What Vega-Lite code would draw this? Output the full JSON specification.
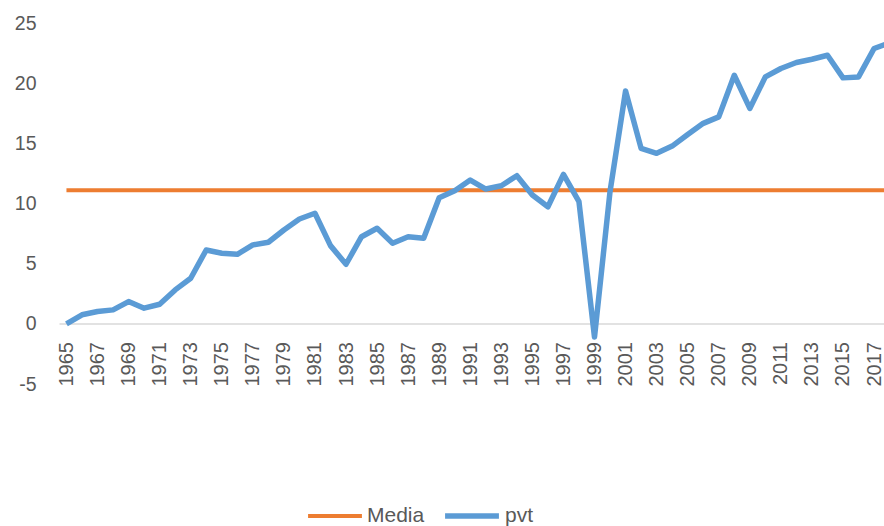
{
  "$schema": "https://vega.github.io/schema/vega-lite/v6.json",
  "autosize": {"type": "none"},
  "padding": {"left": 59, "top": 23, "right": 0, "bottom": 142},
  "width": 825,
  "height": 361,
  "background": "white",
  "config": {
    "view": {"stroke": null},
    "font": "Liberation Sans",
    "axis": {"labelFont": "Liberation Sans", "labelColor": "#595959", "labelFontSize": 19.5, "grid": false, "ticks": false, "title": null},
    "legend": {"labelFont": "Liberation Sans", "labelColor": "#595959", "labelFontSize": 21}
  },
  "data": {
    "values": [
      {"year": 1965, "pvt": 0.0, "Media": 11.1},
      {"year": 1966, "pvt": 0.75, "Media": 11.1},
      {"year": 1967, "pvt": 1.02, "Media": 11.1},
      {"year": 1968, "pvt": 1.16, "Media": 11.1},
      {"year": 1969, "pvt": 1.85, "Media": 11.1},
      {"year": 1970, "pvt": 1.3, "Media": 11.1},
      {"year": 1971, "pvt": 1.63, "Media": 11.1},
      {"year": 1972, "pvt": 2.82, "Media": 11.1},
      {"year": 1973, "pvt": 3.79, "Media": 11.1},
      {"year": 1974, "pvt": 6.14, "Media": 11.1},
      {"year": 1975, "pvt": 5.87, "Media": 11.1},
      {"year": 1976, "pvt": 5.78, "Media": 11.1},
      {"year": 1977, "pvt": 6.56, "Media": 11.1},
      {"year": 1978, "pvt": 6.78, "Media": 11.1},
      {"year": 1979, "pvt": 7.8, "Media": 11.1},
      {"year": 1980, "pvt": 8.71, "Media": 11.1},
      {"year": 1981, "pvt": 9.19, "Media": 11.1},
      {"year": 1982, "pvt": 6.5, "Media": 11.1},
      {"year": 1983, "pvt": 4.95, "Media": 11.1},
      {"year": 1984, "pvt": 7.24, "Media": 11.1},
      {"year": 1985, "pvt": 7.94, "Media": 11.1},
      {"year": 1986, "pvt": 6.7, "Media": 11.1},
      {"year": 1987, "pvt": 7.24, "Media": 11.1},
      {"year": 1988, "pvt": 7.11, "Media": 11.1},
      {"year": 1989, "pvt": 10.48, "Media": 11.1},
      {"year": 1990, "pvt": 11.06, "Media": 11.1},
      {"year": 1991, "pvt": 11.95, "Media": 11.1},
      {"year": 1992, "pvt": 11.2, "Media": 11.1},
      {"year": 1993, "pvt": 11.48, "Media": 11.1},
      {"year": 1994, "pvt": 12.31, "Media": 11.1},
      {"year": 1995, "pvt": 10.71, "Media": 11.1},
      {"year": 1996, "pvt": 9.73, "Media": 11.1},
      {"year": 1997, "pvt": 12.42, "Media": 11.1},
      {"year": 1998, "pvt": 10.15, "Media": 11.1},
      {"year": 1999, "pvt": -1.1, "Media": 11.1},
      {"year": 2000, "pvt": 11.0, "Media": 11.1},
      {"year": 2001, "pvt": 19.35, "Media": 11.1},
      {"year": 2002, "pvt": 14.58, "Media": 11.1},
      {"year": 2003, "pvt": 14.17, "Media": 11.1},
      {"year": 2004, "pvt": 14.77, "Media": 11.1},
      {"year": 2005, "pvt": 15.74, "Media": 11.1},
      {"year": 2006, "pvt": 16.66, "Media": 11.1},
      {"year": 2007, "pvt": 17.2, "Media": 11.1},
      {"year": 2008, "pvt": 20.66, "Media": 11.1},
      {"year": 2009, "pvt": 17.9, "Media": 11.1},
      {"year": 2010, "pvt": 20.52, "Media": 11.1},
      {"year": 2011, "pvt": 21.22, "Media": 11.1},
      {"year": 2012, "pvt": 21.72, "Media": 11.1},
      {"year": 2013, "pvt": 21.99, "Media": 11.1},
      {"year": 2014, "pvt": 22.32, "Media": 11.1},
      {"year": 2015, "pvt": 20.44, "Media": 11.1},
      {"year": 2016, "pvt": 20.52, "Media": 11.1},
      {"year": 2017, "pvt": 22.88, "Media": 11.1},
      {"year": 2018, "pvt": 23.35, "Media": 11.1}
    ]
  },
  "transform": [{"fold": ["Media", "pvt"], "as": ["series", "value"]}],
  "mark": {"type": "line", "clip": true, "strokeJoin": "round"},
  "encoding": {
    "x": {
      "field": "year",
      "type": "quantitative",
      "scale": {"domain": [1964.52, 2017.64], "nice": false, "zero": false},
      "axis": {
        "values": [1965, 1967, 1969, 1971, 1973, 1975, 1977, 1979, 1981, 1983, 1985, 1987, 1989, 1991, 1993, 1995, 1997, 1999, 2001, 2003, 2005, 2007, 2009, 2011, 2013, 2015, 2017],
        "format": "d",
        "labelAngle": 270,
        "labelAlign": "right",
        "labelBaseline": "middle",
        "labelPadding": 18,
        "labelFontSize": 20,
        "labelFont": "Liberation Sans",
        "offset": -60.5,
        "domain": true,
        "domainColor": "#D9D9D9",
        "domainWidth": 1.5,
        "labelOverlap": false,
        "labelFlush": false
      }
    },
    "y": {
      "field": "value",
      "type": "quantitative",
      "scale": {"domain": [-5, 25], "nice": false, "zero": false},
      "axis": {"values": [-5, 0, 5, 10, 15, 20, 25], "labelExpr": "'' + datum.value", "domain": false, "labelPadding": 23}
    },
    "color": {
      "field": "series",
      "type": "nominal",
      "scale": {"domain": ["Media", "pvt"], "range": ["#ED7D31", "#5B9BD5"]},
      "legend": {
        "title": null,
        "orient": "none",
        "legendX": 247,
        "legendY": 463,
        "direction": "horizontal",
        "symbolType": "stroke",
        "symbolSize": 2900,
        "symbolStrokeWidth": 4.5,
        "labelOffset": 3,
        "columnPadding": 9
      }
    },
    "strokeWidth": {
      "field": "series",
      "type": "nominal",
      "scale": {"domain": ["Media", "pvt"], "range": [4, 5.5]},
      "legend": null
    }
  }
}
